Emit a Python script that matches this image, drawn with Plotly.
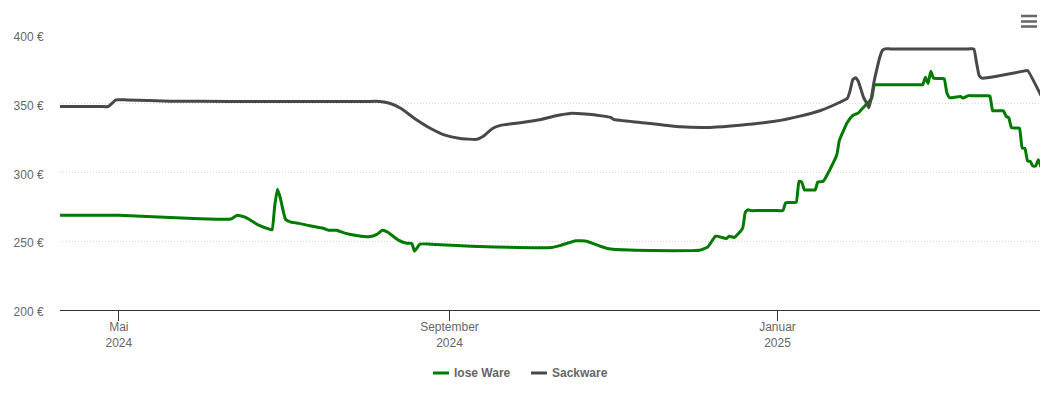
import plotly.graph_objects as go

# lose Ware
lose_dates = [
    "2024-04-09", "2024-05-01", "2024-05-18", "2024-05-31", "2024-06-11", "2024-06-12", "2024-06-14",
    "2024-06-17", "2024-06-22", "2024-06-26", "2024-06-27", "2024-06-28", "2024-06-29", "2024-06-30",
    "2024-07-02", "2024-07-04", "2024-07-07", "2024-07-11", "2024-07-16", "2024-07-18", "2024-07-21",
    "2024-07-24", "2024-07-29", "2024-08-02", "2024-08-05", "2024-08-07", "2024-08-09", "2024-08-13",
    "2024-08-16", "2024-08-18", "2024-08-19", "2024-08-21", "2024-08-25", "2024-09-09", "2024-09-27",
    "2024-10-09", "2024-10-12", "2024-10-18", "2024-10-22", "2024-10-27", "2024-10-31", "2024-11-15",
    "2024-12-01", "2024-12-03", "2024-12-06", "2024-12-09", "2024-12-13", "2024-12-14", "2024-12-16",
    "2024-12-19", "2024-12-20", "2024-12-21", "2024-12-22", "2024-12-25", "2025-01-01", "2025-01-03",
    "2025-01-04", "2025-01-05", "2025-01-07", "2025-01-08", "2025-01-09", "2025-01-10", "2025-01-11",
    "2025-01-12", "2025-01-14", "2025-01-15", "2025-01-16", "2025-01-18", "2025-01-23", "2025-01-24",
    "2025-01-27", "2025-01-29", "2025-01-31", "2025-02-02", "2025-02-05", "2025-02-06", "2025-02-07",
    "2025-02-23", "2025-02-24", "2025-02-25", "2025-02-26", "2025-02-27", "2025-02-28", "2025-03-01",
    "2025-03-03", "2025-03-04", "2025-03-05", "2025-03-06", "2025-03-07", "2025-03-10", "2025-03-11",
    "2025-03-13", "2025-03-14", "2025-03-20", "2025-03-21", "2025-03-22", "2025-03-23", "2025-03-25",
    "2025-03-26", "2025-03-27", "2025-03-28", "2025-03-29", "2025-03-30", "2025-03-31", "2025-04-01",
    "2025-04-02", "2025-04-03", "2025-04-04", "2025-04-05", "2025-04-06", "2025-04-07", "2025-04-08",
    "2025-04-09",
]
lose_values = [
    268.9, 268.9, 267.5, 266.4, 266, 266.4, 268.9,
    267.5, 261.7, 258.8, 258.4, 276, 287.8, 282,
    266, 263.9, 263, 261.3, 259.5, 258, 258,
    255.9, 254, 253.3, 255, 258, 256.6, 250.8,
    248.6, 248.3, 242.8, 247.9, 247.9, 246.4, 245.4,
    245.4, 246.8, 250.4, 250, 246.4, 244.3, 243.2,
    243.2, 243.4, 245.7, 253.7, 252, 253.7, 252.8,
    259.3, 271, 273, 272.3, 272.3, 272.3, 272.3,
    277.9, 278.2, 278.2, 278.4, 293.6, 293.1, 287.3,
    287.3, 287.3, 287.3, 293.1, 293.6, 312.5, 323.4,
    336.6, 341.5, 343.2, 347.5, 353.9, 363.8, 363.8,
    363.8, 363.8, 369.3, 364.7, 373.7, 368.6, 368.3,
    368.3, 368.1, 357.8, 354.4, 354.4, 355.3, 354.1,
    355.9, 355.9, 355.8, 355.5, 344.9, 344.9, 344.9,
    344.9, 341, 339.8, 332.6, 332.3, 332.3, 332.3,
    317.9, 317.5, 308.4, 308, 304.7, 304.7, 309.3,
    304,
]

# Sackware
sack_dates = [
    "2024-04-09", "2024-04-24", "2024-04-27", "2024-04-30", "2024-05-04", "2024-05-20", "2024-06-11",
    "2024-08-01", "2024-08-06", "2024-08-10", "2024-08-14", "2024-08-19", "2024-08-25", "2024-08-30",
    "2024-09-05", "2024-09-11", "2024-09-14", "2024-09-17", "2024-09-20", "2024-09-28", "2024-10-05",
    "2024-10-11", "2024-10-16", "2024-10-24", "2024-10-31", "2024-11-01", "2024-11-11", "2024-11-26",
    "2024-12-07", "2024-12-18", "2024-12-31", "2025-01-09", "2025-01-17", "2025-01-24", "2025-01-27",
    "2025-01-28", "2025-01-29", "2025-01-30", "2025-01-31", "2025-02-02", "2025-02-03", "2025-02-04",
    "2025-02-05", "2025-02-06", "2025-02-07", "2025-02-08", "2025-02-09", "2025-02-10", "2025-02-12",
    "2025-03-13", "2025-03-15", "2025-03-16", "2025-03-17", "2025-03-18", "2025-03-19", "2025-03-23",
    "2025-04-03", "2025-04-04", "2025-04-09",
]
sack_values = [
    348, 348, 348, 352.8, 352.8, 351.9, 351.7,
    351.7, 351.7, 350.2, 346.6, 339.3, 332, 327.4,
    324.8, 324.1, 327, 332, 334.3, 336.4, 338.6,
    341.5, 343, 342.2, 340, 338.6, 336.4, 333.2,
    332.8, 334.3, 337.2, 340.8, 345.1, 350.9, 354,
    359.6, 367.6, 368.9, 366.5, 354.6, 351, 347,
    355.3, 367, 375.6, 383.6, 388.7, 389.9, 389.9,
    389.9, 389.9, 380, 370.5, 368.6, 368.7, 369.8,
    373.9, 374.2, 356,
]

x_ticks = ["2024-05-01", "2024-09-01", "2025-01-01"]
x_labels = ["Mai<br>2024", "September<br>2024", "Januar<br>2025"]
y_ticks = [200, 250, 300, 350, 400]
y_labels = ["200 €", "250 €", "300 €", "350 €", "400 €"]

GREEN = "#007a00"
GREY = "#484848"
TEXT = "#666666"
FONT = "Liberation Sans"
W, H = 1050, 400

fig = go.Figure()
fig.add_trace(go.Scatter(x=lose_dates, y=lose_values, name="lose Ware", mode="lines",
                         line=dict(color=GREEN, width=3, shape="spline", smoothing=0.4)))
fig.add_trace(go.Scatter(x=sack_dates, y=sack_values, name="Sackware", mode="lines",
                         line=dict(color=GREY, width=3, shape="spline", smoothing=0.4)))

fig.update_layout(
    width=W, height=H,
    margin=dict(l=60, r=10, t=35, b=90),
    paper_bgcolor="white", plot_bgcolor="white",
    showlegend=False,
    font=dict(family=FONT, size=12, color=TEXT),
)
fig.update_xaxes(range=["2024-04-09 03:00", "2025-04-08 15:00"], tickvals=x_ticks, ticktext=x_labels,
                 ticks="outside", ticklen=10, tickwidth=1, tickcolor="#333333", ticklabelstandoff=-4,
                 showline=True, linecolor="#333333", linewidth=1, showgrid=False, zeroline=False)
fig.update_yaxes(range=[200, 400], tickvals=y_ticks, ticktext=y_labels,
                 ticks="outside", ticklen=13, tickcolor="rgba(0,0,0,0)", ticklabelshift=2,
                 showgrid=True, gridcolor="#d8d8d8", griddash="1px,2px", gridwidth=1,
                 showline=False, zeroline=False)

# legend by hand, plotly's line samples are too long
for name, color, x0, tx in [("lose Ware", GREEN, 433, 454), ("Sackware", GREY, 531, 552)]:
    fig.add_shape(type="line", xref="paper", yref="paper",
                  x0=(x0 - 60) / 980, x1=(x0 + 16 - 60) / 980,
                  y0=(310 - 373) / 275, y1=(310 - 373) / 275,
                  line=dict(color=color, width=3))
    fig.add_annotation(text=f"<b>{name}</b>", xref="paper", yref="paper", showarrow=False,
                       x=(tx - 60) / 980, y=(310 - 373) / 275, xanchor="left", yanchor="middle",
                       xshift=-2, font=dict(family=FONT, size=12, color=TEXT))

# menu icon, top right
for py in [16, 21.5, 26.5]:
    fig.add_shape(type="line", xref="paper", yref="paper",
                  x0=(1021 - 60) / 980, x1=(1037 - 60) / 980,
                  y0=(310 - py) / 275, y1=(310 - py) / 275,
                  line=dict(color=TEXT, width=2.5))

fig.write_html("out.html", config={"displayModeBar": False},
               post_script="document.body.style.margin='0';")
